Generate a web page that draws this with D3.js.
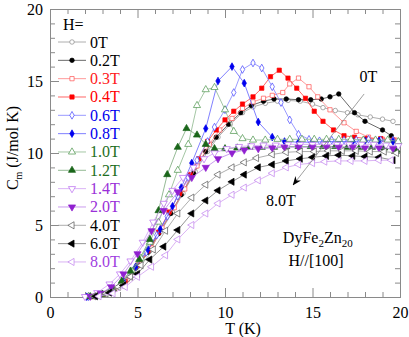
<!DOCTYPE html>
<html>
<head>
<meta charset="utf-8">
<script src="https://cdn.jsdelivr.net/npm/d3@7"></script>
<style>
  body { margin: 0; background: #fff; }
  svg text { font-family: "Liberation Serif", "Times New Roman", serif; }
</style>
</head>
<body>
<div id="chart"></div>
<script>
// heat capacity C_m(T) of DyFe2Zn20, one array of [T, C] per field
var h00 = [[2.3,0.02],[3.0,0.2],[3.6,0.5],[4.3,1.1],[5.0,2.1],[5.7,3.2],[6.3,4.5],[7.0,5.9],[7.6,7.2],[8.3,8.7],[9.0,10.1],[9.6,11.1],[10.3,12.0],[11.0,12.8],[11.6,13.2],[12.3,13.45],[13.0,13.6],[13.6,13.65],[14.3,13.6],[15.0,13.4],[15.6,13.15],[16.3,12.95],[17.0,12.8],[17.6,12.65],[18.3,12.5],[19.0,12.35],[19.6,12.2]];
var h02 = [[2.2,0.02],[2.9,0.18],[3.5,0.45],[4.2,1.0],[4.9,2.0],[5.6,3.1],[6.2,4.4],[6.9,5.8],[7.5,7.1],[8.2,8.6],[8.9,10.1],[9.5,11.1],[10.2,12.0],[10.9,12.8],[11.5,13.3],[12.2,13.6],[12.8,13.75],[13.5,13.75],[14.2,13.7],[14.9,13.7],[15.5,13.75],[16.0,13.9],[16.5,14.1],[17.4,12.8],[18.0,12.2],[19.0,11.6],[19.5,11.2]];
var h03 = [[2.4,0.03],[3.1,0.22],[3.7,0.55],[4.4,1.2],[5.1,2.3],[5.8,3.4],[6.4,4.8],[7.1,6.2],[7.7,7.5],[8.4,9.1],[9.1,10.6],[9.7,11.6],[10.4,12.4],[11.0,13.1],[11.6,13.55],[12.2,13.8],[12.7,14.0],[13.3,14.2],[13.7,14.8],[14.2,15.2],[14.8,14.6],[15.3,13.9],[16.0,13.0],[16.8,12.1],[17.5,11.5],[18.2,11.1],[19.0,10.95],[19.7,10.9]];
var h04 = [[2.3,0.03],[3.0,0.2],[3.6,0.5],[4.3,1.1],[5.0,2.2],[5.6,3.2],[6.2,4.5],[6.8,5.9],[7.4,7.2],[8.0,8.5],[8.5,9.6],[9.0,10.8],[9.5,11.6],[10.0,12.3],[10.5,12.9],[11.0,13.4],[11.6,13.9],[12.1,14.5],[12.6,15.3],[13.1,15.75],[13.6,15.2],[14.1,14.5],[14.6,13.8],[15.1,12.9],[15.6,12.2],[16.2,11.6],[16.8,11.2],[17.4,11.1],[18.1,11.0],[18.9,11.0],[19.6,10.9]];
var h06 = [[2.2,0.02],[2.9,0.2],[3.5,0.5],[4.2,1.1],[4.9,2.1],[5.5,3.1],[6.1,4.3],[6.7,5.6],[7.3,7.0],[7.9,8.3],[8.4,9.5],[9.0,10.8],[9.4,11.8],[10.0,13.0],[10.5,14.2],[11.0,15.8],[11.6,16.25],[12.1,15.9],[12.7,14.6],[13.2,13.5],[13.7,12.3],[14.2,11.3],[14.8,10.95],[15.4,10.85],[16.1,10.9],[16.8,10.9],[17.5,10.9],[18.2,10.95],[18.9,10.9],[19.6,10.9]];
var h08 = [[2.1,0.02],[2.8,0.18],[3.5,0.5],[4.2,1.1],[4.9,2.1],[5.6,3.3],[6.3,4.7],[7.0,6.3],[7.5,7.6],[8.1,9.3],[8.9,11.7],[9.6,15.0],[10.4,16.0],[11.1,14.85],[11.9,12.15],[12.7,11.1],[13.4,10.8],[14.2,10.75],[15.0,10.75],[15.8,10.8],[16.5,10.8],[17.3,10.8],[18.0,10.85],[18.8,10.85],[19.6,10.8]];
var h10 = [[2.2,0.03],[2.9,0.2],[3.5,0.5],[4.1,1.0],[4.7,1.8],[5.2,2.7],[5.7,3.8],[6.2,5.2],[6.8,7.1],[7.3,8.8],[7.9,10.6],[8.4,13.3],[8.9,14.4],[9.4,14.55],[10.0,13.0],[10.5,11.5],[11.0,11.0],[11.6,10.9],[12.3,10.9],[13.0,10.95],[13.7,10.95],[14.4,10.95],[15.1,10.95],[15.8,10.95],[16.5,10.95],[17.2,10.95],[17.9,10.9],[18.6,10.9],[19.3,10.9],[19.9,10.8]];
var h12 = [[2.3,0.03],[3.0,0.2],[3.6,0.55],[4.1,1.1],[4.6,1.8],[5.1,2.6],[5.7,4.0],[6.2,6.0],[6.7,8.5],[7.3,10.4],[7.8,11.7],[8.4,11.25],[8.9,10.6],[9.4,10.3],[10.0,10.3],[10.7,10.35],[11.4,10.4],[12.1,10.4],[12.8,10.4],[13.5,10.45],[14.2,10.45],[14.9,10.45],[15.6,10.45],[16.3,10.45],[17.0,10.4],[17.7,10.4],[18.4,10.4],[19.1,10.35],[19.8,10.2]];
var h14 = [[2.0,0.03],[2.7,0.3],[3.4,0.9],[4.0,1.6],[4.6,2.5],[5.3,3.8],[5.9,5.2],[6.5,6.5],[7.0,7.4],[7.6,8.3],[8.2,9.0],[8.8,9.6],[9.4,10.0],[10.1,10.3],[10.8,10.45],[11.5,10.5],[12.2,10.55],[12.9,10.55],[13.6,10.6],[14.3,10.6],[15.0,10.6],[15.7,10.6],[16.4,10.6],[17.1,10.6],[17.8,10.6],[18.5,10.6],[19.2,10.55],[19.9,10.5]];
var h20 = [[2.3,0.05],[2.9,0.25],[3.5,0.7],[4.2,1.6],[5.0,3.0],[5.8,4.6],[6.5,6.0],[7.3,7.3],[8.1,8.3],[8.9,9.0],[9.6,9.6],[10.4,10.0],[11.1,10.2],[11.9,10.3],[12.7,10.35],[13.4,10.4],[14.2,10.4],[15.0,10.4],[15.8,10.4],[16.5,10.4],[17.3,10.4],[18.0,10.35],[18.8,10.35],[19.6,10.3]];
var h40 = [[2.5,0.05],[3.2,0.25],[3.9,0.7],[4.6,1.4],[5.2,2.2],[5.9,3.3],[6.6,4.6],[7.3,5.8],[8.1,6.9],[8.9,7.8],[9.6,8.5],[10.4,9.0],[11.1,9.35],[11.8,9.65],[12.7,9.9],[13.5,10.05],[14.3,10.1],[15.1,10.1],[15.9,10.15],[16.7,10.15],[17.5,10.15],[18.3,10.1],[19.1,10.1],[19.8,10.0]];
var h60 = [[2.6,0.05],[3.4,0.3],[4.2,0.8],[5.0,1.6],[5.7,2.6],[6.5,3.5],[7.3,4.65],[8.1,5.8],[8.9,6.7],[9.6,7.4],[10.4,8.0],[11.1,8.5],[11.9,9.0],[12.7,9.2],[13.5,9.45],[14.3,9.6],[15.0,9.7],[15.8,9.8],[16.5,9.85],[17.3,9.8],[18.0,9.75],[18.8,9.7],[19.6,9.5]];
var h80 = [[2.8,0.05],[3.6,0.25],[4.3,0.7],[5.0,1.4],[5.8,2.1],[6.6,2.9],[7.3,4.0],[8.1,5.0],[8.9,5.8],[9.6,6.5],[10.4,7.1],[11.1,7.6],[11.9,8.1],[12.7,8.6],[13.5,9.0],[14.2,9.2],[15.0,9.3],[15.7,9.4],[16.5,9.45],[17.2,9.45],[18.0,9.45],[18.8,9.5],[19.5,9.5]];

var fieldLabels = ["0T", "0.2T", "0.3T", "0.4T", "0.6T", "0.8T", "1.0T", "1.2T", "1.4T", "2.0T", "4.0T", "6.0T", "8.0T"];
var xTicks = [0, 5, 10, 15, 20];
var yTicks = [0, 5, 10, 15, 20];

// style per series (line colour, marker colour, text colour, shape, filled)
var styles = [
  {line: "#999",    mark: "#888",    text: "#000", shape: "circle", fill: false},
  {line: "#444",    mark: "#000",    text: "#000", shape: "circle", fill: true},
  {line: "#ff8080", mark: "#ff5050", text: "#ff2020", shape: "square", fill: false},
  {line: "#ff4040", mark: "#ff0000", text: "#ff0000", shape: "square", fill: true},
  {line: "#8080ff", mark: "#4040ff", text: "#0000ee", shape: "diamond", fill: false},
  {line: "#6060ff", mark: "#0000ee", text: "#0000ee", shape: "diamond", fill: true},
  {line: "#8db88d", mark: "#4a944a", text: "#1e6e1e", shape: "up", fill: false},
  {line: "#7aa87a", mark: "#1a661a", text: "#1e6e1e", shape: "up", fill: true},
  {line: "#d0a0f4", mark: "#b868f0", text: "#9a30d8", shape: "down", fill: false},
  {line: "#bb80e8", mark: "#9020d0", text: "#9a30d8", shape: "down", fill: true},
  {line: "#999",    mark: "#555",    text: "#000", shape: "left", fill: false},
  {line: "#777",    mark: "#000",    text: "#000", shape: "left", fill: true},
  {line: "#d0a0f0", mark: "#c080ee", text: "#a040e0", shape: "left", fill: false}
];
var allData = [h00, h02, h03, h04, h06, h08, h10, h12, h14, h20, h40, h60, h80];

var width = 409, height = 337;
var svg = d3.select("#chart").append("svg")
    .attr("width", width)
    .attr("height", height);

var x = d3.scaleLinear().domain([0, 20]).range([50, 400]);
var y = d3.scaleLinear().domain([0, 20]).range([297, 9]);

var axisColor = "#8a8a8a";
var minorT = d3.range(0, 21).filter(function(d) { return d % 5 != 0; });

function styleAxis(g) {
  g.select(".domain").attr("stroke", axisColor);
  g.selectAll(".tick line").attr("stroke", axisColor);
  g.selectAll(".tick text").attr("fill", "#000").style("font-size", "16px")
    .style("font-family", "'Liberation Serif', serif");
}

// bottom
svg.append("g").attr("transform", "translate(0,297)")
  .call(d3.axisBottom(x).tickValues(xTicks).tickSize(-9).tickPadding(10).tickFormat(d3.format("d")))
  .call(styleAxis);
svg.append("g").attr("transform", "translate(0,297)")
  .call(d3.axisBottom(x).tickValues(minorT).tickSize(-5).tickFormat(""))
  .call(styleAxis);
// top
svg.append("g").attr("transform", "translate(0,9)")
  .call(d3.axisTop(x).tickValues(xTicks).tickSize(-9).tickFormat(""))
  .call(styleAxis);
svg.append("g").attr("transform", "translate(0,9)")
  .call(d3.axisTop(x).tickValues(minorT).tickSize(-5).tickFormat(""))
  .call(styleAxis);
// left
svg.append("g").attr("transform", "translate(50,0)")
  .call(d3.axisLeft(y).tickValues(yTicks).tickSize(-9).tickPadding(7).tickFormat(d3.format("d")))
  .call(styleAxis);
svg.append("g").attr("transform", "translate(50,0)")
  .call(d3.axisLeft(y).tickValues(minorT).tickSize(-5).tickFormat(""))
  .call(styleAxis);
// right
svg.append("g").attr("transform", "translate(400,0)")
  .call(d3.axisRight(y).tickValues(yTicks).tickSize(-9).tickFormat(""))
  .call(styleAxis);
svg.append("g").attr("transform", "translate(400,0)")
  .call(d3.axisRight(y).tickValues(minorT).tickSize(-5).tickFormat(""))
  .call(styleAxis);

// axis titles
svg.append("text")
  .attr("x", 243).attr("y", 334)
  .attr("text-anchor", "middle")
  .style("font-size", "16px")
  .text("T (K)");

var ylab = svg.append("text")
  .attr("transform", "translate(18,148) rotate(-90)")
  .attr("text-anchor", "middle")
  .style("font-size", "16px");
ylab.append("tspan").text("C");
ylab.append("tspan").attr("dy", 4).style("font-size", "10px").text("m");
ylab.append("tspan").attr("dy", -4).text(" (J/mol K)");

// marker shapes
function symbolPath(shape) {
  var t = shape == "circle" ? d3.symbolCircle
        : shape == "square" ? d3.symbolSquare
        : shape == "diamond" ? d3.symbolDiamond
        : d3.symbolTriangle;
  var size = shape == "circle" ? 16 : shape == "square" ? 18 : shape == "diamond" ? 17 : 22;
  return d3.symbol().type(t).size(size)();
}
function rot(shape) {
  if (shape == "down") return 180;
  if (shape == "left") return -90;
  return 0;
}

var line = d3.line()
  .x(function(d) { return x(d[0]); })
  .y(function(d) { return y(d[1]); });

var plot = svg.append("g");

allData.forEach(function(data, i) {
  var s = styles[i];
  plot.append("path")
    .datum(data)
    .attr("fill", "none")
    .attr("stroke", s.line)
    .attr("stroke-width", 0.8)
    .attr("d", line);
  plot.selectAll(".m" + i)
    .data(data)
    .enter()
    .append("path")
    .attr("class", "m" + i)
    .attr("d", symbolPath(s.shape))
    .attr("transform", function(d) { return "translate(" + x(d[0]) + "," + y(d[1]) + ") rotate(" + rot(s.shape) + ")"; })
    .attr("fill", s.fill ? s.mark : "#fff")
    .attr("stroke", s.mark)
    .attr("stroke-width", 0.7);
});

// legend
var legend = svg.append("g");
legend.append("text")
  .attr("x", 63).attr("y", 30)
  .style("font-size", "16px")
  .text("H=");

var rows = legend.selectAll(".row")
  .data(fieldLabels)
  .enter()
  .append("g")
  .attr("class", "row")
  .attr("transform", function(d, i) { return "translate(0," + (42 + i * 18.33) + ")"; });

rows.append("line")
  .attr("x1", 58).attr("x2", 86)
  .attr("stroke", function(d, i) { return styles[i].line; })
  .attr("stroke-width", 0.8);
rows.append("path")
  .attr("d", function(d, i) { return symbolPath(styles[i].shape); })
  .attr("transform", function(d, i) { return "translate(72,0) rotate(" + rot(styles[i].shape) + ")"; })
  .attr("fill", function(d, i) { return styles[i].fill ? styles[i].mark : "#fff"; })
  .attr("stroke", function(d, i) { return styles[i].mark; })
  .attr("stroke-width", 0.7);
rows.append("text")
  .attr("x", 90).attr("y", 5.5)
  .style("font-size", "16px")
  .attr("fill", function(d, i) { return styles[i].text; })
  .text(function(d) { return d; });

// arrow annotation from 0T to 8.0T
svg.append("defs").append("marker")
  .attr("id", "arr")
  .attr("viewBox", "0 0 10 10")
  .attr("refX", 9).attr("refY", 5)
  .attr("markerWidth", 9).attr("markerHeight", 9)
  .attr("markerUnits", "userSpaceOnUse")
  .attr("orient", "auto")
  .append("path")
  .attr("d", "M0,1 L10,5 L0,9 L3,5 Z")
  .attr("fill", "#000");

svg.append("line")
  .attr("x1", x(17.95)).attr("y1", y(14.1))
  .attr("x2", x(13.9)).attr("y2", y(7.8))
  .attr("stroke", "#888")
  .attr("stroke-width", 0.8)
  .attr("marker-end", "url(#arr)");

svg.append("text")
  .attr("x", x(18.2)).attr("y", y(14.95))
  .attr("text-anchor", "middle")
  .style("font-size", "16px")
  .text("0T");
svg.append("text")
  .attr("x", x(13.2)).attr("y", y(6.3))
  .attr("text-anchor", "middle")
  .style("font-size", "16px")
  .text("8.0T");

var comp = svg.append("text")
  .attr("x", x(15.3)).attr("y", y(3.75))
  .attr("text-anchor", "middle")
  .style("font-size", "16px");
comp.append("tspan").text("DyFe");
comp.append("tspan").attr("dy", 4).style("font-size", "11px").text("2");
comp.append("tspan").attr("dy", -4).text("Zn");
comp.append("tspan").attr("dy", 4).style("font-size", "11px").text("20");

svg.append("text")
  .attr("x", x(15.2)).attr("y", y(2.15))
  .attr("text-anchor", "middle")
  .style("font-size", "16px")
  .text("H//[100]");
</script>
</body>
</html>
